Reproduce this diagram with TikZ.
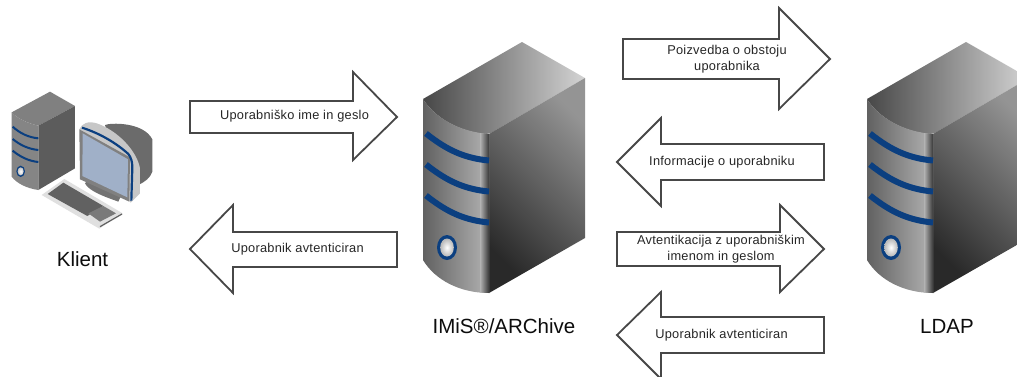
\documentclass[tikz,border=0pt]{standalone}
\usepackage{fontspec}
\setmainfont{Liberation Sans}
\newfontfamily\flowfont[LetterSpace=2]{Liberation Sans}
\definecolor{strip}{HTML}{0B3F80}
\definecolor{screenblue}{RGB}{160,176,200}
\tikzset{
  x=1pt,y=-1pt,
  flow/.style={draw=black!72,line width=1.8pt,fill=white,miter limit=10},
  flowtext/.style={font=\flowfont\fontsize{12.8}{16.5}\selectfont,text=black!85,align=center,inner sep=0pt},
  caption/.style={font=\fontsize{20.5}{24}\selectfont,text=black!95,inner sep=0pt},
  band/.style={draw=strip,line width=6pt},
  pics/bigserver/.style={code={
    % top
    \shade[left color=black!72,right color=black!17]
      (423,99) -- (522,42) -- (585,78) -- (496,130) .. controls (491,133) and (490,134) .. (486,134)
      .. controls (460,132) and (435,118) .. (423,99) -- cycle;
    % side
    \shade[bottom color=black!84,middle color=black!50,top color=black!42,shading angle=-45]
      (489,134) -- (585,78) -- (585,238) -- (489,293) -- cycle;
    % front
    \shade[left color=black!62,right color=black!30]
      (423,99) .. controls (435,118) and (460,132) .. (489,134)
      -- (489,293) .. controls (460,293) and (435,280) .. (423,260) -- cycle;
    \shade[left color=black!30,right color=black!78]
      (480,133) -- (489,134) -- (489,293) -- (480,292.5) -- cycle;
    % bands
    \draw[band] (426,133.5) .. controls (442,146) and (460,158) .. (489,160.5);
    \draw[band] (426,164.5) .. controls (442,177) and (460,189) .. (489,191.5);
    \draw[band] (426,195.5) .. controls (442,208) and (460,220) .. (489,222.5);
    % button
    \fill[strip] (447,247.5) ellipse [x radius=10,y radius=12.5];
    \shade[inner color=white,outer color=black!28] (447,247.5) ellipse [x radius=6.8,y radius=9];
  }}
}
\begin{document}
\begin{tikzpicture}
\useasboundingbox (0,0) rectangle (1017,376);
\clip (0,0) rectangle (1017,376);
\fill[white] (0,0) rectangle (1017,376);

% client (coordinates read from a 3x crop)
\begin{scope}[shift={(0,80)},scale=1/3]
  % monitor back
  \fill[black!58] (315,135) .. controls (330,128) and (430,125) .. (457,178)
     -- (457,275) .. controls (450,295) and (435,305) .. (415,315) -- (340,220) -- cycle;
  % stand
  \fill[black!55] (255,310) -- (262,302) -- (362,350) -- (355,365) -- (320,352) .. controls (290,340) and (265,328) .. (255,310) -- cycle;
  % bezel
  \fill[black!22] (238,148) .. controls (245,130) and (265,122) .. (290,130)
     .. controls (350,150) and (410,210) .. (420,265) -- (420,340) -- (392,368) -- cycle;
  % screen frame and glass
  \fill[black!50] (238,148) -- (390,232) -- (388,365) -- (240,298) -- cycle;
  \fill[screenblue] (248,160) -- (384,238) -- (382,352) -- (247,288) -- cycle;
  \draw[strip,line width=2.2pt] (246,143) .. controls (300,160) and (350,190) .. (385,222) .. controls (393,232) and (397,245) .. (397,262) -- (394,362);
  % keyboard
  \fill[black!12] (125,345) -- (193,297) -- (368,400) -- (298,446) -- cycle;
  \fill[black!62] (143,342) -- (190,308) -- (310,378) -- (262,408) -- cycle;
  \fill[black!52] (265,400) -- (310,378) -- (348,400) -- (300,425) -- cycle;
  \draw[black!62,line width=1.2pt] (300,440) -- (366,402);
  % tower
  \fill[black!50] (35,97) -- (150,35) -- (225,78) -- (115,137) .. controls (85,130) and (55,118) .. (35,97) -- cycle;
  \fill[black!64] (115,137) -- (225,78) -- (225,265) -- (115,330) -- cycle;
  \fill[black!48] (35,97) .. controls (55,118) and (85,130) .. (115,137) -- (115,330)
     .. controls (80,325) and (50,310) .. (35,290) -- cycle;
  \draw[strip,line width=2pt] (38,140) .. controls (60,160) and (85,172) .. (115,175);
  \draw[strip,line width=2pt] (38,177) .. controls (60,195) and (85,207) .. (115,210);
  \draw[strip,line width=2pt] (38,212) .. controls (60,230) and (85,243) .. (115,246);
  \fill[strip] (62,274) ellipse [x radius=13,y radius=17];
  \shade[inner color=white,outer color=black!25] (62,274) ellipse [x radius=9,y radius=12];
\end{scope}
\node[caption] (klient) at (82.5,259) {Klient};

% servers
\pic {bigserver};
\pic at (444,0) {bigserver};
\node[caption] (imis) at (504,326) {IMiS®/ARChive};
\node[caption] (ldap) at (947,326) {LDAP};

% arrows
\draw[flow] (190,101) -- (353,101) -- (353,72) -- (397,117) -- (353,160) -- (353,133) -- (190,133) -- cycle;
\node[flowtext] (a1) at (294.5,116) {Uporabniško ime in geslo};

\draw[flow] (397,232) -- (233,232) -- (233,205) -- (190,249) -- (233,293) -- (233,267) -- (397,267) -- cycle;
\node[flowtext] (a2) at (297.5,249) {Uporabnik avtenticiran};

\draw[flow] (623,39) -- (779,39) -- (779,8) -- (830,59) -- (779,109) -- (779,79) -- (623,79) -- cycle;
\node[flowtext] (a3) at (727,59) {Poizvedba o obstoju\\uporabnika};

\draw[flow] (824,144) -- (661,144) -- (661,118) -- (617,162) -- (661,206) -- (661,180) -- (824,180) -- cycle;
\node[flowtext] (a4) at (722,162) {Informacije o uporabniku};

\draw[flow] (617,232) -- (780,232) -- (780,205) -- (824,249) -- (780,292) -- (780,266) -- (617,266) -- cycle;
\node[flowtext] (a5) at (721,249) {Avtentikacija z uporabniškim\\imenom in geslom};

\draw[flow] (824,317) -- (661,317) -- (661,292) -- (617,335) -- (661,379) -- (661,353) -- (824,353) -- cycle;
\node[flowtext] (a6) at (721.5,335) {Uporabnik avtenticiran};
\end{tikzpicture}
\end{document}
